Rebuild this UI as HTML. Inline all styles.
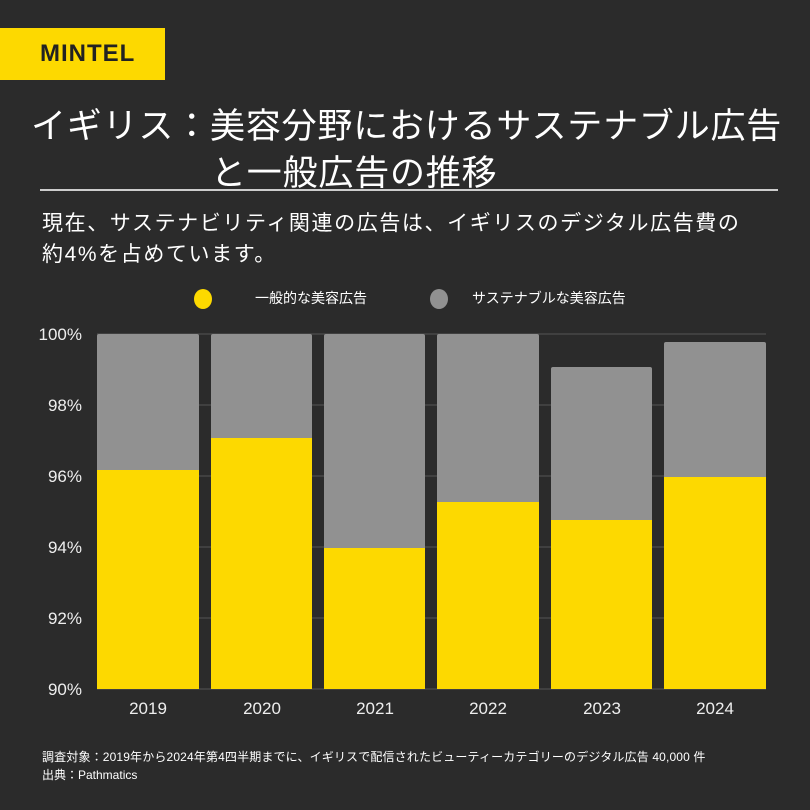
<!DOCTYPE html><html><head><meta charset="utf-8"><style>
body{margin:0;width:810px;height:810px;background:#2b2b2b;overflow:hidden;font-family:"Liberation Sans","Noto Sans CJK JP",sans-serif;color:#fff;position:relative}
.a{position:absolute;white-space:nowrap}
</style></head><body>
<div class="a" style="left:0;top:28px;width:165px;height:52px;background:#fdd900"></div>
<div class="a" style="left:40px;top:40px;font-size:24px;font-weight:bold;color:#222;letter-spacing:1px">MINTEL</div>
<div class="a" style="left:31px;top:98px;font-size:35px;letter-spacing:0.8px">イギリス：美容分野におけるサステナブル広告</div>
<div class="a" style="left:211px;top:145px;font-size:35px;letter-spacing:0.8px">と一般広告の推移</div>
<div class="a" style="left:40px;top:189px;width:738px;height:2px;background:#ccc"></div>
<div class="a" style="left:42px;top:207px;font-size:21px;letter-spacing:1.6px">現在、サステナビリティ関連の広告は、イギリスのデジタル広告費の</div>
<div class="a" style="left:42px;top:238px;font-size:21px;letter-spacing:1.6px">約4%を占めています。</div>
<div class="a" style="left:194px;top:289px;width:18px;height:20px;border-radius:50%;background:#fdd900"></div>
<div class="a" style="left:255px;top:288px;font-size:14px">一般的な美容広告</div>
<div class="a" style="left:430px;top:289px;width:18px;height:20px;border-radius:50%;background:#919191"></div>
<div class="a" style="left:472px;top:288px;font-size:14px">サステナブルな美容広告</div>
<svg class="a" style="left:0;top:0" width="810" height="810">
<g stroke="#484848" stroke-width="1.5">
<line x1="97" x2="766" y1="334" y2="334"/><line x1="97" x2="766" y1="405" y2="405"/><line x1="97" x2="766" y1="476" y2="476"/><line x1="97" x2="766" y1="547" y2="547"/><line x1="97" x2="766" y1="618" y2="618"/><line x1="97" x2="766" y1="689" y2="689"/></g>
<g fill="#919191">
<rect x="97" y="334" width="102" height="140" rx="2"/><rect x="211" y="334" width="101" height="110" rx="2"/><rect x="324" y="334" width="101" height="220" rx="2"/><rect x="437" y="334" width="102" height="170" rx="2"/><rect x="551" y="367" width="101" height="160" rx="2"/><rect x="664" y="342" width="102" height="140" rx="2"/></g>
<g fill="#fdd900">
<rect x="97" y="470" width="102" height="219"/><rect x="211" y="438" width="101" height="251"/><rect x="324" y="548" width="101" height="141"/><rect x="437" y="502" width="102" height="187"/><rect x="551" y="520" width="101" height="169"/><rect x="664" y="477" width="102" height="212"/></g>
<g fill="#eee" font-size="17" font-family="Liberation Sans, sans-serif" text-anchor="end">
<text x="82" y="340">100%</text><text x="82" y="411">98%</text><text x="82" y="482">96%</text><text x="82" y="553">94%</text><text x="82" y="624">92%</text><text x="82" y="695">90%</text></g>
<g fill="#eee" font-size="17" font-family="Liberation Sans, sans-serif" text-anchor="middle">
<text x="148" y="714">2019</text><text x="262" y="714">2020</text><text x="375" y="714">2021</text><text x="488" y="714">2022</text><text x="602" y="714">2023</text><text x="715" y="714">2024</text></g>
</svg>
<div class="a" style="left:42px;top:748px;font-size:12px;letter-spacing:0.15px">調査対象：2019年から2024年第4四半期までに、イギリスで配信されたビューティーカテゴリーのデジタル広告 40,000 件</div>
<div class="a" style="left:42px;top:766px;font-size:12px">出典：Pathmatics</div>
</body></html>
